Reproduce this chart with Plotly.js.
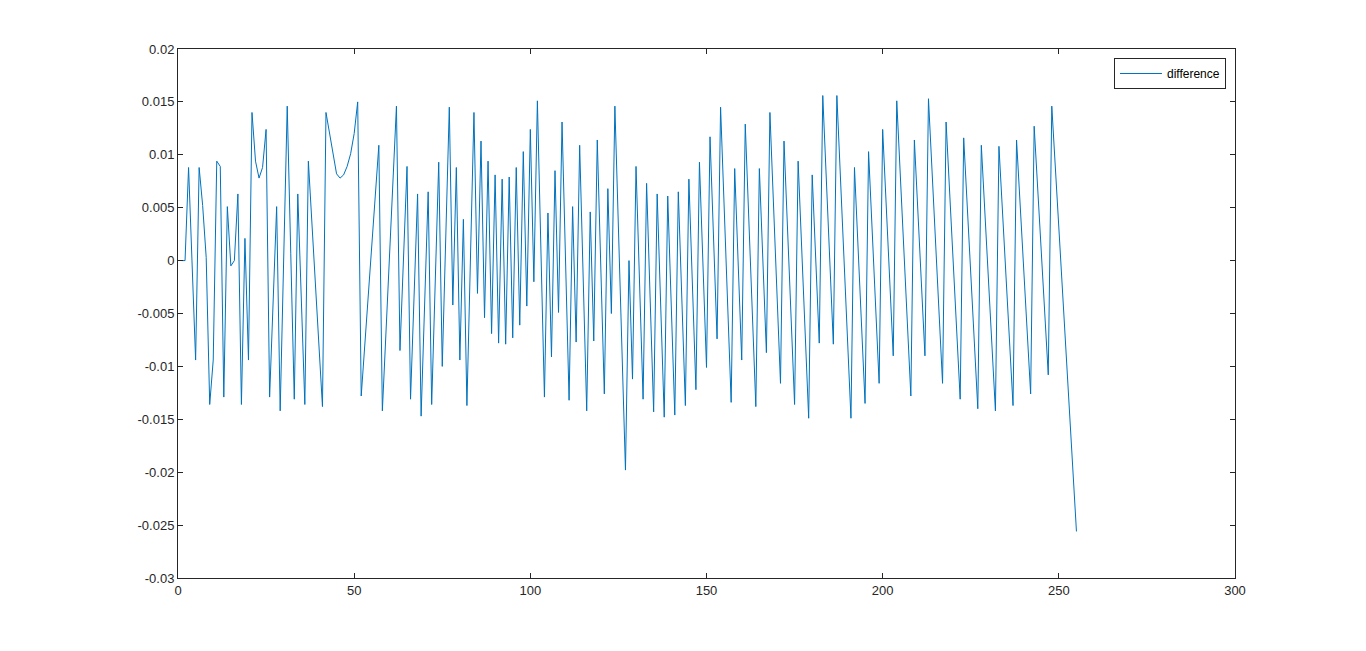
<!DOCTYPE html>
<html>
<head>
<meta charset="utf-8">
<script src="https://cdn.plot.ly/plotly-3.0.1.min.js"></script>
<style>
  html, body { margin: 0; padding: 0; background: #ffffff; }
  #chart { width: 1366px; height: 651px; }
</style>
</head>
<body>
<div id="chart"></div>
<script>
// series name
const seriesName = "difference";

// difference values, sample index 1..255
const difference = [
  0.0000, 0.0000, 0.0088, -0.0003, -0.0094, 0.0088, 0.0052, 0.0003, -0.0136, -0.0094,
  0.0094, 0.0089, -0.0129, 0.0051, -0.0005, 0.0000, 0.0063, -0.0136, 0.0021, -0.0094,
  0.0140, 0.0094, 0.0078, 0.0088, 0.0124, -0.0129, -0.0039, 0.0051, -0.0142, 0.0002,
  0.0146, 0.0007, -0.0131, 0.0063, -0.0037, -0.0136, 0.0094, 0.0036, -0.0021, -0.0079,
  -0.0138, 0.0140, 0.0120, 0.0098, 0.0082, 0.0078, 0.0081, 0.0089, 0.0101, 0.0120,
  0.0150, -0.0128, -0.0081, -0.0033, 0.0014, 0.0062, 0.0109, -0.0142, -0.0070, 0.0002,
  0.0074, 0.0146, -0.0085, 0.0002, 0.0089, -0.0131, -0.0034, 0.0063, -0.0147, -0.0041,
  0.0065, -0.0136, -0.0022, 0.0093, -0.0100, 0.0023, 0.0145, -0.0042, 0.0088, -0.0094,
  0.0039, -0.0137, 0.0001, 0.0140, -0.0031, 0.0113, -0.0054, 0.0094, -0.0069, 0.0081,
  -0.0078, 0.0077, -0.0079, 0.0079, -0.0073, 0.0088, -0.0061, 0.0103, -0.0043, 0.0124,
  -0.0020, 0.0151, 0.0011, -0.0129, 0.0045, -0.0091, 0.0085, -0.0049, 0.0131, 0.0000,
  -0.0132, 0.0051, -0.0077, 0.0109, -0.0017, -0.0142, 0.0046, -0.0076, 0.0114, -0.0006,
  -0.0126, 0.0068, -0.0050, 0.0146, 0.0031, -0.0084, -0.0198, 0.0000, -0.0112, 0.0089,
  -0.0021, -0.0131, 0.0073, -0.0035, -0.0143, 0.0063, -0.0043, -0.0148, 0.0061, -0.0043,
  -0.0146, 0.0065, -0.0036, -0.0137, 0.0077, -0.0023, -0.0122, 0.0093, -0.0004, -0.0101,
  0.0117, 0.0022, -0.0074, 0.0145, 0.0052, -0.0041, -0.0134, 0.0087, -0.0004, -0.0094,
  0.0129, 0.0039, -0.0050, -0.0138, 0.0087, 0.0000, -0.0087, 0.0140, 0.0055, -0.0030,
  -0.0116, 0.0113, 0.0030, -0.0053, -0.0136, 0.0094, 0.0013, -0.0068, -0.0149, 0.0081,
  0.0002, -0.0078, 0.0156, 0.0078, 0.0000, -0.0079, 0.0156, 0.0080, 0.0004, -0.0073,
  -0.0149, 0.0088, 0.0014, -0.0060, -0.0135, 0.0103, 0.0029, -0.0043, -0.0116, 0.0124,
  0.0052, -0.0019, -0.0090, 0.0151, 0.0081, 0.0011, -0.0059, -0.0128, 0.0114, 0.0046,
  -0.0022, -0.0090, 0.0153, 0.0086, 0.0019, -0.0048, -0.0116, 0.0131, 0.0065, -0.0001,
  -0.0066, -0.0131, 0.0116, 0.0052, -0.0012, -0.0076, -0.0140, 0.0109, 0.0046, -0.0017,
  -0.0080, -0.0142, 0.0108, 0.0047, -0.0015, -0.0076, -0.0137, 0.0114, 0.0054, -0.0006,
  -0.0066, -0.0126, 0.0127, 0.0068, 0.0009, -0.0050, -0.0108, 0.0146, 0.0089, 0.0031,
  -0.0026, -0.0084, -0.0141, -0.0199, -0.0256
];

// sample index (1-based)
const sampleIndex = difference.map((_, k) => k + 1);

// axis ticks
const xTickVals = [0, 50, 100, 150, 200, 250, 300];
const yTickVals = [-0.03, -0.025, -0.02, -0.015, -0.01, -0.005, 0, 0.005, 0.01, 0.015, 0.02];
const yTickText = ["-0.03", "-0.025", "-0.02", "-0.015", "-0.01", "-0.005", "0", "0.005", "0.01", "0.015", "0.02"];

const axisColor = "#262626";
const fontFamily = "Arial, 'Liberation Sans', Helvetica, sans-serif";

const trace = {
  x: sampleIndex,
  y: difference,
  type: "scatter",
  mode: "lines",
  name: seriesName,
  line: { color: "#0072BD", width: 1 },
  hoverinfo: "x+y"
};

const layout = {
  width: 1366,
  height: 651,
  margin: { l: 178, r: 131, t: 49, b: 73, pad: 0 },
  paper_bgcolor: "#ffffff",
  plot_bgcolor: "#ffffff",
  font: { family: fontFamily, size: 12, color: axisColor },
  showlegend: true,
  legend: {
    x: 0.8855, y: 0.983, xanchor: "left", yanchor: "top",
    bgcolor: "#ffffff", bordercolor: axisColor, borderwidth: 1,
    font: { family: fontFamily, size: 12, color: "#000000" },
    itemwidth: 42,
    tracegroupgap: 0
  },
  xaxis: {
    range: [0, 300],
    tickvals: xTickVals,
    ticktext: xTickVals.map(String),
    ticks: "inside", ticklen: 5, tickwidth: 1, tickcolor: axisColor,
    showline: true, linecolor: axisColor, linewidth: 1, mirror: "ticks",
    showgrid: false, zeroline: false,
    tickfont: { family: fontFamily, size: 13, color: axisColor },
    automargin: false
  },
  yaxis: {
    range: [-0.03, 0.02],
    tickvals: yTickVals,
    ticktext: yTickText,
    ticks: "inside", ticklen: 5, tickwidth: 1, tickcolor: axisColor,
    showline: true, linecolor: axisColor, linewidth: 1, mirror: "ticks",
    showgrid: false, zeroline: false,
    tickfont: { family: fontFamily, size: 13, color: axisColor },
    automargin: false
  }
};

Plotly.newPlot("chart", [trace], layout, { displayModeBar: false, staticPlot: true });
</script>
</body>
</html>
